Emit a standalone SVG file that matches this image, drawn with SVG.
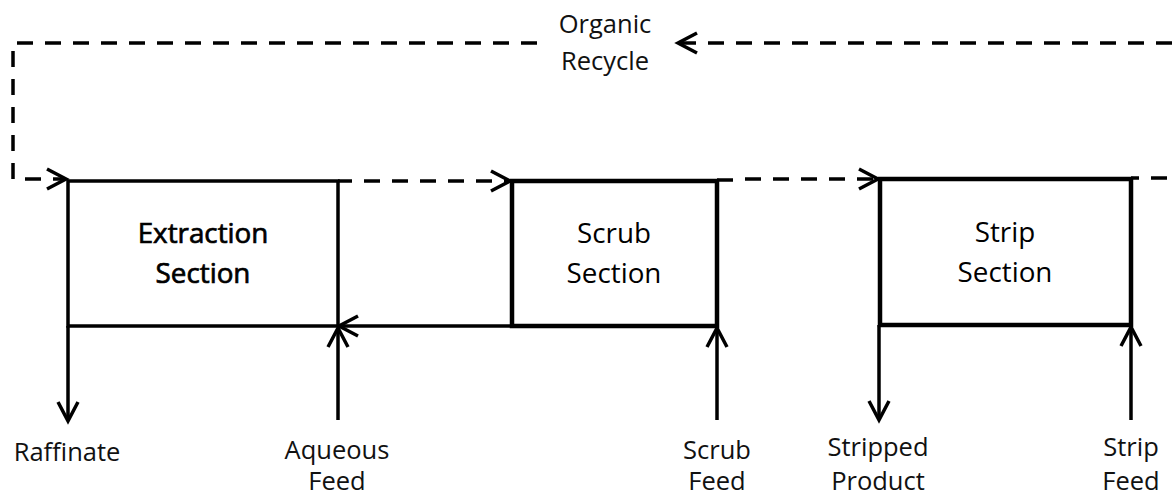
<svg xmlns="http://www.w3.org/2000/svg" width="1172" height="498" viewBox="0 0 1172 498">
  <style>
    .bg { fill: #ffffff; }
    .box { fill: none; stroke: #000; stroke-width: 3.5; }
    .box.heavy { stroke-width: 4.5; }
    .flow { fill: none; stroke: #000; stroke-width: 3.5; }
    .dash { stroke-dasharray: 16 12; }
    .label { font-family: "Open Sans", "Liberation Sans", sans-serif; font-size: 25.5px; fill: #111; text-anchor: middle; }
    .title { font-family: "Open Sans", "Liberation Sans", sans-serif; font-size: 27.8px; fill: #000; text-anchor: middle; }
    .title.strong { stroke: #000; stroke-width: 0.7; }
  </style>
  <defs>
    <marker id="chev" viewBox="-22 -13 26 26" markerWidth="26" markerHeight="26" refX="0" refY="0" orient="auto" markerUnits="userSpaceOnUse">
      <path d="M-19,-10 L0,0 L-19,10" fill="none" stroke="#000" stroke-width="3.5" stroke-dasharray="none"/>
    </marker>
  </defs>

  <rect class="bg" x="0" y="0" width="1172" height="498"/>

  <!-- process sections -->
  <g id="extraction">
    <rect class="box" x="68" y="181" width="270" height="145"/>
    <text class="title strong" x="203" y="243">Extraction</text>
    <text class="title strong" x="203" y="283">Section</text>
  </g>
  <g id="scrub">
    <rect class="box heavy" x="512" y="181" width="205" height="145"/>
    <text class="title" x="614" y="243">Scrub</text>
    <text class="title" x="614" y="283">Section</text>
  </g>
  <g id="strip">
    <rect class="box heavy" x="880" y="179" width="251" height="146"/>
    <text class="title" x="1005" y="242">Strip</text>
    <text class="title" x="1005" y="282">Section</text>
  </g>

  <!-- stream labels -->
  <g id="organic-recycle">
    <text class="label" x="605" y="33">Organic</text>
    <text class="label" x="605" y="70">Recycle</text>
  </g>
  <g id="raffinate">
    <text class="label" x="67" y="461">Raffinate</text>
  </g>
  <g id="aqueous-feed">
    <text class="label" x="337" y="459">Aqueous</text>
    <text class="label" x="337" y="490">Feed</text>
  </g>
  <g id="scrub-feed">
    <text class="label" x="717" y="459">Scrub</text>
    <text class="label" x="717" y="490">Feed</text>
  </g>
  <g id="stripped-product">
    <text class="label" x="878" y="456">Stripped</text>
    <text class="label" x="878" y="490">Product</text>
  </g>
  <g id="strip-feed">
    <text class="label" x="1131" y="456">Strip</text>
    <text class="label" x="1131" y="490">Feed</text>
  </g>

  <!-- streams -->
  <g id="connectors">
    <!-- organic recycle loop -->
    <line class="flow dash" x1="1172" y1="43" x2="678" y2="43" marker-end="url(#chev)"/>
    <polyline class="flow dash" points="537,43 13,43 13,179 66,179" marker-end="url(#chev)"/>
    <!-- loaded organic: extraction to scrub to strip -->
    <line class="flow" x1="338" y1="181" x2="352" y2="181"/>
    <line class="flow dash" x1="364" y1="181" x2="510" y2="181" marker-end="url(#chev)"/>
    <line class="flow" x1="717" y1="180" x2="733" y2="180"/>
    <line class="flow dash" x1="745" y1="179" x2="878" y2="179" marker-end="url(#chev)"/>
    <line class="flow dash" x1="1131" y1="178" x2="1172" y2="178" stroke-dashoffset="-20"/>
    <!-- scrub liquor back to extraction -->
    <line class="flow" x1="512" y1="326" x2="339" y2="326" marker-end="url(#chev)"/>
    <!-- aqueous in/out -->
    <line class="flow" x1="68" y1="326" x2="68" y2="421" marker-end="url(#chev)"/>
    <line class="flow" x1="338" y1="420" x2="338" y2="328" marker-end="url(#chev)"/>
    <line class="flow" x1="717" y1="420" x2="717" y2="328" marker-end="url(#chev)"/>
    <line class="flow" x1="879" y1="325" x2="879" y2="420" marker-end="url(#chev)"/>
    <line class="flow" x1="1131" y1="420" x2="1131" y2="327" marker-end="url(#chev)"/>
  </g>
</svg>
